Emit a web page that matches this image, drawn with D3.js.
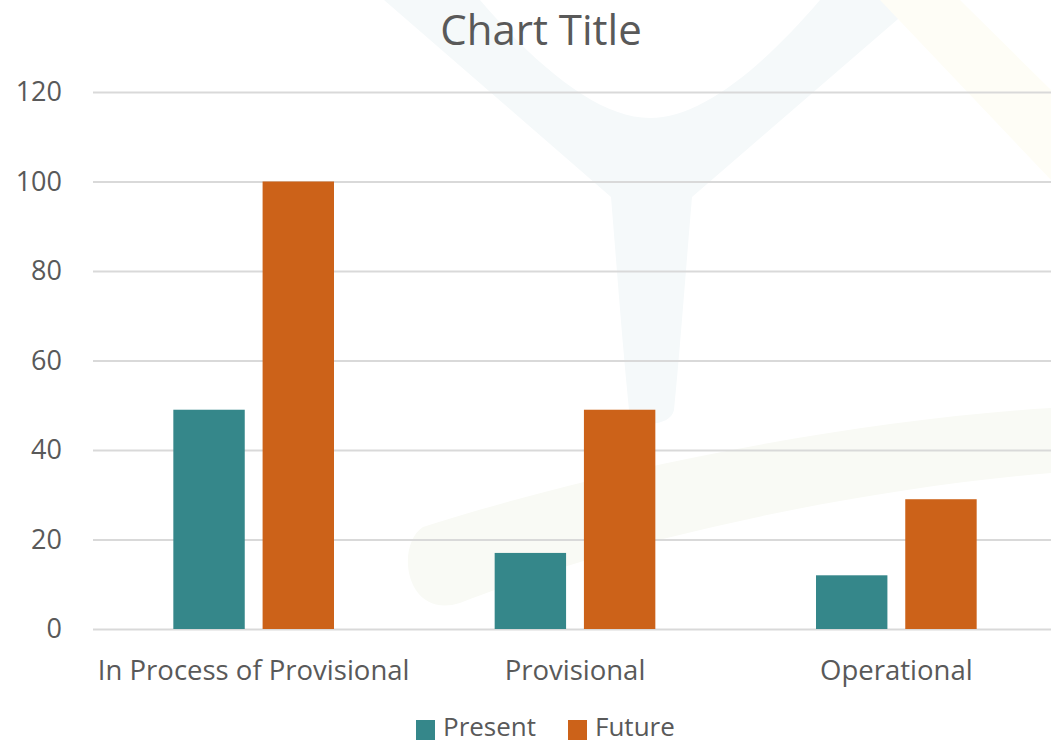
<!DOCTYPE html>
<html>
<head>
<meta charset="utf-8">
<script src="https://cdn.jsdelivr.net/npm/d3@7"></script>
<style>
  body { margin: 0; background: #ffffff; }
  svg text { font-family: "Open Sans", sans-serif; fill: #595959; }
</style>
</head>
<body>
<svg id="chart" width="1051" height="744"></svg>
<script>
// chart data
const categories = ["In Process of Provisional", "Provisional", "Operational"];
const seriesNames = ["Present", "Future"];
const presentValues = [49, 17, 12];
const futureValues = [100, 49, 29];
const yTicks = [0, 20, 40, 60, 80, 100, 120];
const seriesColors = ["#35878a", "#cc6219"];

const width = 1051, height = 744;
const margin = { top: 92, right: -6, bottom: 115, left: 93 };

const svg = d3.select("#chart");

// faint watermark in the background
const mark = svg.append("g");
mark.append("path")
  .attr("d", "M384,0 L480,0 C540,70 600,118 650,118 C700,118 760,70 820,0 L920,0 L692,197 " +
             "C685,280 680,350 674,410 C670,428 632,428 629,410 C622,340 617,270 611,197 Z")
  .attr("fill", "#f5f9fa");
mark.append("path")
  .attr("d", "M880,0 L960,0 L1051,90 L1051,180 Z")
  .attr("fill", "#fefdf6");
mark.append("path")
  .attr("d", "M423,527 C600,470 850,420 1051,408 L1051,473 C850,490 620,540 460,603 C405,620 395,545 423,527 Z")
  .attr("fill", "#f9faf5");

const data = categories.map((c, i) => ({ category: c, values: [presentValues[i], futureValues[i]] }));

const x0 = d3.scaleBand()
  .domain(categories)
  .range([margin.left, width - margin.right])
  .paddingInner(0.5)
  .paddingOuter(0.25);

const x1 = d3.scaleBand()
  .domain(seriesNames)
  .range([0, x0.bandwidth()])
  .paddingInner(0.2)
  .paddingOuter(0);

const y = d3.scaleLinear()
  .domain([0, 120])
  .range([height - margin.bottom, margin.top]);

// gridlines
const yAxis = d3.axisLeft(y)
  .tickValues(yTicks)
  .tickSize(-(width - margin.left));

const yGroup = svg.append("g")
  .attr("transform", `translate(${margin.left},0)`)
  .call(yAxis);
yGroup.select(".domain").remove();
yGroup.selectAll(".tick line").attr("stroke", "#d9d9d9").attr("stroke-width", 2);
yGroup.selectAll(".tick text")
  .style("font-size", "27px")
  .attr("x", -31)
  .attr("text-anchor", "end");

// bars
const groups = svg.append("g")
  .selectAll("g")
  .data(data)
  .join("g")
  .attr("transform", d => `translate(${x0(d.category)},0)`);

groups.selectAll("rect")
  .data(d => d.values.map((v, i) => ({ name: seriesNames[i], value: v, color: seriesColors[i] })))
  .join("rect")
  .attr("x", d => x1(d.name))
  .attr("y", d => y(d.value))
  .attr("width", x1.bandwidth())
  .attr("height", d => y(0) - y(d.value))
  .attr("fill", d => d.color);

// category labels
const xAxis = d3.axisBottom(x0).tickSize(0).tickPadding(31);
const xGroup = svg.append("g")
  .attr("transform", `translate(0,${y(0)})`)
  .call(xAxis);
xGroup.select(".domain").remove();
xGroup.selectAll(".tick text").style("font-size", "27.5px");

// title
svg.append("text")
  .attr("x", 541)
  .attr("y", 45)
  .attr("text-anchor", "middle")
  .style("font-size", "42px")
  .text("Chart Title");

// legend
const legend = svg.append("g").attr("transform", "translate(416,713)");
const legendItems = legend.selectAll("g")
  .data(seriesNames)
  .join("g")
  .attr("transform", (d, i) => `translate(${i * 152},0)`);
legendItems.append("rect")
  .attr("x", 0).attr("y", 7)
  .attr("width", 19).attr("height", 20)
  .attr("fill", (d, i) => seriesColors[i]);
legendItems.append("text")
  .attr("x", 27).attr("y", 23)
  .style("font-size", "26px")
  .text(d => d);
</script>
</body>
</html>
